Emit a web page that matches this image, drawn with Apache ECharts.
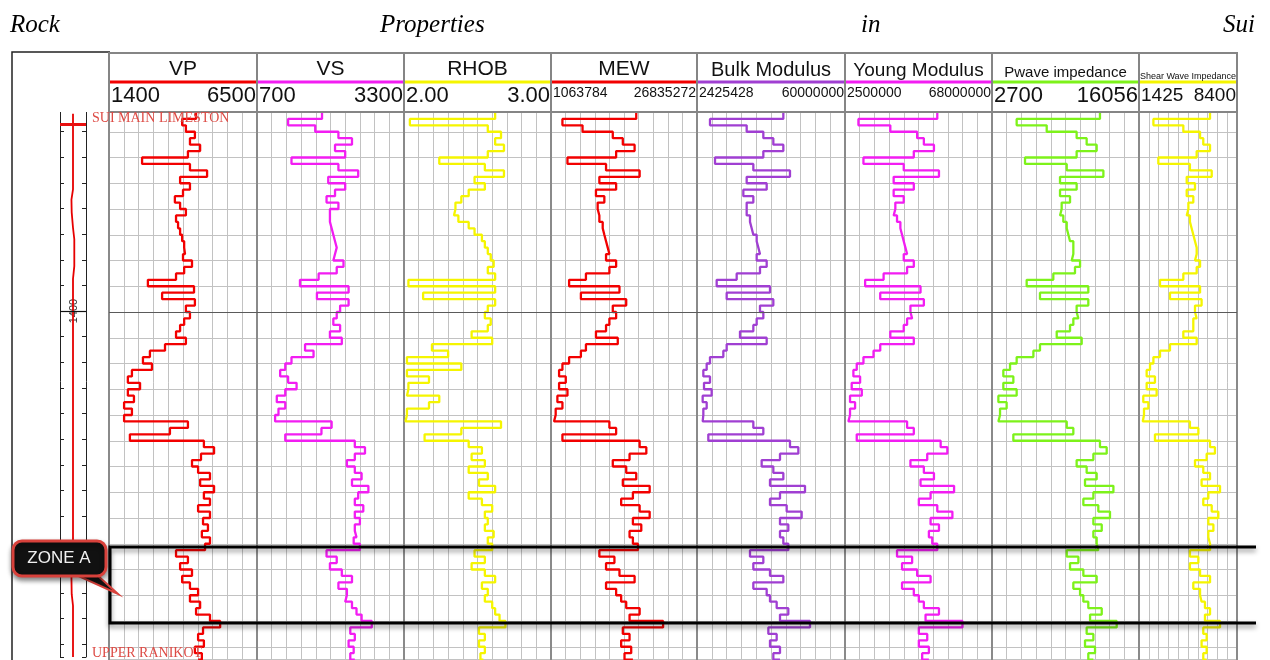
<!DOCTYPE html>
<html>
<head>
<meta charset="utf-8">
<script src="https://cdn.jsdelivr.net/npm/echarts@6/dist/echarts.min.js"></script>
<style>
  html, body { margin: 0; padding: 0; background: #fff; }
  #chart { width: 1270px; height: 660px; }
</style>
</head>
<body>
<div id="chart"></div>
<script>
// depth samples (m), shared by all log tracks
const depth = [
  1384.5, 1385, 1385.5, 1386, 1386.5, 1387, 1387.5, 1388, 1388.5, 1389,
  1389.5, 1390, 1390.5, 1391, 1391.5, 1392, 1392.5, 1393, 1393.5, 1394,
  1394.5, 1395, 1395.5, 1396, 1396.5, 1397, 1397.5, 1398, 1398.5, 1399,
  1399.5, 1400, 1400.5, 1401, 1401.5, 1402, 1402.5, 1403, 1403.5, 1404,
  1404.5, 1405, 1405.5, 1406, 1406.5, 1407, 1407.5, 1408, 1408.5, 1409,
  1409.5, 1410, 1410.5, 1411, 1411.5, 1412, 1412.5, 1413, 1413.5, 1414,
  1414.5, 1415, 1415.5, 1416, 1416.5, 1417, 1417.5, 1418, 1418.5, 1419,
  1419.5, 1420, 1420.5, 1421, 1421.5, 1422, 1422.5, 1423, 1423.5, 1424,
  1424.5, 1425, 1425.5, 1426, 1426.5, 1427
];

const vp = [
  4400, 3920, 4050, 4360, 4190, 4540, 4120, 2540, 4190, 4780,
  3850, 4190, 3950, 3670, 3850, 4050, 3710, 3780, 3850, 3920,
  3990, 4020, 3950, 4260, 3990, 3710, 2740, 4330, 3230, 4360,
  4050, 4190, 3990, 3850, 3710, 4050, 3330, 2810, 2570, 2880,
  2190, 2050, 2470, 2050, 2260, 1920, 2190, 1920, 4120, 3500,
  2120, 4670, 5020, 4570, 4260, 4470, 4880, 4540, 5020, 4670,
  4880, 4470, 4880, 4640, 4810, 4600, 4880, 4710, 3710, 4120,
  3850, 4260, 3920, 4190, 4470, 4190, 4540, 4400, 4880, 5230,
  4640, 4470, 4670, 4360, 4600, 4470
];
const vs = [
  1850, 1250, 1730, 2140, 2380, 2080, 2260, 1310, 2140, 2490,
  1960, 2260, 2080, 1930, 2140, 1990, 1990, 2020, 2050, 2080,
  2110, 2080, 2050, 2230, 2110, 1790, 1460, 2320, 1760, 2320,
  2170, 2110, 2050, 2170, 1990, 2200, 1550, 1700, 1310, 1200,
  1110, 1250, 1400, 1200, 1050, 1200, 1080, 1020, 2020, 1840,
  1200, 2430, 2610, 2430, 2290, 2430, 2550, 2380, 2670, 2490,
  2430, 2580, 2430, 2520, 2430, 2460, 2410, 2520, 1930, 2110,
  1990, 2200, 2380, 2140, 2290, 2260, 2380, 2460, 2550, 2730,
  2350, 2430, 2320, 2410, 2350, 2430
];
const rhob = [
  2.62, 2.04, 2.57, 2.66, 2.62, 2.68, 2.57, 2.24, 2.55, 2.68,
  2.48, 2.55, 2.44, 2.39, 2.35, 2.34, 2.37, 2.44, 2.48, 2.53,
  2.55, 2.57, 2.59, 2.61, 2.57, 2.62, 2.03, 2.62, 2.13, 2.62,
  2.57, 2.55, 2.59, 2.57, 2.46, 2.60, 2.19, 2.30, 2.02, 2.39,
  2.02, 2.17, 2.03, 2.02, 2.24, 2.17, 2.02, 2.01, 2.66, 2.39,
  2.14, 2.44, 2.53, 2.46, 2.55, 2.44, 2.57, 2.51, 2.62, 2.44,
  2.53, 2.60, 2.55, 2.57, 2.55, 2.61, 2.57, 2.60, 2.48, 2.55,
  2.46, 2.55, 2.62, 2.53, 2.57, 2.55, 2.60, 2.62, 2.65, 2.69,
  2.51, 2.55, 2.51, 2.55, 2.52, 2.54
];
const mew = [
  16110000, 3080000, 6630000, 11970000, 13740000, 15820000, 12560000, 3970000, 10780000, 16710000,
  9600000, 12560000, 9000000, 10480000, 9300000, 9600000, 9600000, 10190000, 10480000, 10780000,
  11080000, 11370000, 10780000, 12560000, 11370000, 7230000, 4260000, 13150000, 6340000, 14340000,
  11970000, 12560000, 11370000, 10780000, 9000000, 12850000, 7230000, 6340000, 4260000, 3080000,
  2490000, 3670000, 2490000, 3970000, 2190000, 3080000, 1890000, 1600000, 11370000, 12560000,
  3080000, 16710000, 17890000, 14930000, 11970000, 14340000, 16110000, 13740000, 18480000, 15520000,
  13450000, 16710000, 18480000, 15520000, 17000000, 14930000, 15520000, 16410000, 9600000, 12260000,
  10780000, 13150000, 15820000, 10780000, 12560000, 13450000, 14340000, 16710000, 14930000, 20850000,
  13740000, 14930000, 13450000, 15220000, 14040000, 15520000
];
const bulkModulus = [
  36010000, 7480000, 21750000, 28230000, 32120000, 36010000, 28230000, 9430000, 24340000, 38600000,
  21750000, 29530000, 20450000, 24340000, 21750000, 21750000, 23040000, 23690000, 24340000, 25640000,
  26290000, 26930000, 25640000, 29530000, 26930000, 17860000, 10080000, 30820000, 13970000, 32120000,
  26930000, 28230000, 25640000, 24340000, 19150000, 29530000, 13970000, 12670000, 7480000, 6190000,
  4890000, 7480000, 5150000, 8130000, 4630000, 6190000, 4890000, 4630000, 24340000, 28230000,
  6830000, 38600000, 41850000, 34710000, 27580000, 32120000, 36010000, 30820000, 44440000, 34710000,
  30820000, 37310000, 43140000, 34710000, 37950000, 34710000, 36010000, 37950000, 23040000, 28230000,
  24340000, 30820000, 36010000, 24340000, 29530000, 30820000, 33420000, 37950000, 34710000, 46380000,
  30180000, 33420000, 30820000, 34710000, 32120000, 34710000
];
const youngModulus = [
  43620000, 8480000, 22690000, 34650000, 37640000, 42130000, 33160000, 10720000, 28670000, 44370000,
  24180000, 33160000, 24180000, 28670000, 24930000, 24180000, 25680000, 27170000, 27920000, 28670000,
  29420000, 30170000, 28670000, 33160000, 30170000, 19700000, 11470000, 36150000, 18200000, 37640000,
  31660000, 32410000, 30170000, 28670000, 22690000, 33160000, 18200000, 15210000, 10720000, 7730000,
  6240000, 9230000, 5490000, 9980000, 4740000, 6990000, 4740000, 4000000, 30170000, 33160000,
  7730000, 45120000, 48110000, 39140000, 31660000, 37640000, 42130000, 36150000, 51100000, 40630000,
  35400000, 43620000, 50350000, 40630000, 44370000, 39880000, 41380000, 43620000, 25680000, 32410000,
  27920000, 34650000, 40630000, 27920000, 33160000, 35400000, 37640000, 44370000, 38390000, 54840000,
  35400000, 39140000, 35400000, 39880000, 36890000, 39880000
];
const pwaveImpedance = [
  12510, 4940, 7670, 10390, 11300, 12210, 10390, 5700, 9490, 12820,
  8880, 10390, 8880, 9790, 9030, 8880, 9180, 9490, 9640, 9790,
  10090, 10090, 9940, 10700, 10240, 8270, 5850, 11450, 7060, 11450,
  10390, 10550, 10090, 9790, 8580, 10850, 7060, 6460, 4940, 4340,
  3730, 4640, 3730, 4940, 3280, 4030, 3430, 3280, 9490, 10090,
  4640, 12510, 13120, 11910, 10390, 11300, 12210, 11150, 13730, 11910,
  11000, 12360, 13420, 11910, 12670, 11910, 12210, 12360, 9490, 10550,
  9790, 11000, 12210, 10090, 10700, 11000, 11450, 12670, 11610, 14030,
  11300, 11910, 11150, 12060, 11450, 11910
];
const shearImpedance = [
  6480, 2450, 4580, 5770, 6000, 6480, 5530, 2800, 5050, 6600,
  4820, 5410, 4820, 5290, 4940, 4820, 5050, 5170, 5290, 5410,
  5530, 5530, 5410, 5770, 5530, 4580, 2920, 5770, 3630, 5880,
  5410, 5530, 5290, 5290, 4580, 5530, 3630, 2920, 2450, 2210,
  1970, 2560, 1970, 2680, 1730, 2090, 1780, 1690, 5050, 5650,
  2560, 6480, 6830, 6240, 5410, 6000, 6480, 5880, 7190, 6360,
  6000, 6600, 7070, 6360, 6720, 6360, 6480, 6480, 5050, 5650,
  5050, 5770, 6480, 5290, 5770, 5880, 6120, 6480, 6120, 7190,
  6000, 6240, 5880, 6240, 6000, 6240
];

// track headers
const trackNames = ['VP', 'VS', 'RHOB', 'MEW', 'Bulk Modulus', 'Young Modulus', 'Pwave impedance', 'Shear Wave Impedance'];
const scaleMin = [1400, 700, 2.00, 1063784, 2425428, 2500000, 2700, 1425];
const scaleMax = [6500, 3300, 3.00, 26835272, 60000000, 68000000, 16056, 8400];
const scaleText = [['1400', '6500'], ['700', '3300'], ['2.00', '3.00'], ['1063784', '26835272'],
  ['2425428', '60000000'], ['2500000', '68000000'], ['2700', '16056'], ['1425', '8400']];
const trackData = [vp, vs, rhob, mew, bulkModulus, youngModulus, pwaveImpedance, shearImpedance];

// thin curve in the depth track (0-10 scale)
const refCurveDepth = [1384.6, 1390.5, 1391.3, 1392.3, 1393.5, 1394.4, 1396.5, 1397.5, 1420.0, 1420.8, 1422.1, 1423, 1427];
const refCurveValue = [5, 5, 4.4, 4.5, 5, 5.5, 5.5, 5, 5, 4.4, 4.5, 5, 5];

const formationNames = ['SUI MAIN LIMESTON', 'UPPER RANIKOT'];
const formationDepths = [1385.4, 1427.2];
const zoneA = [1418.25, 1424.15];
const titleWords = ['Rock', 'Properties', 'in', 'Sui'];

// layout
const edges = [109, 257, 404, 551, 697, 845, 992, 1139, 1237];
const colors = ['#f20000', '#f21df2', '#f5f500', '#f20000', '#a03fd2', '#f21df2', '#7df21a', '#f5f500'];
const nameFont = [21, 21, 21, 21, 20, 19, 15, 9];
const nameY = [69, 69, 69, 69, 70, 71, 73, 77];
const scaleFont = [22, 22, 22, 14, 14, 14, 22, 19];
const depthMin = 1384, depthMax = 1427, depthStep = 2;
const gridTop = 106, pxPerMetre = 12.875;
const gridHeight = (depthMax - depthMin) * pxPerMetre;
const sans = 'Liberation Sans, Arial, sans-serif';
const serif = 'Liberation Serif, Times New Roman, serif';
const borderGray = '#8a8a8a';

const grids = [], xAxes = [], yAxes = [], series = [];

trackNames.forEach((name, i) => {
  grids.push({ left: edges[i], width: edges[i + 1] - edges[i], top: gridTop, height: gridHeight });
  xAxes.push({
    gridIndex: i, type: 'value', position: 'bottom', min: scaleMin[i], max: scaleMax[i], show: false
  });
  xAxes.push({
    gridIndex: i, type: 'value', position: 'top', min: 0, max: 10, interval: 1,
    axisLine: { show: false, onZero: false }, axisTick: { show: false }, axisLabel: { show: false },
    splitLine: { show: true, lineStyle: { color: '#c2c2c2', width: 1 } }
  });
  yAxes.push({
    gridIndex: i, type: 'value', position: 'left', inverse: true,
    min: depthMin, max: depthMax, interval: depthStep,
    axisLine: { show: true, onZero: false, lineStyle: { color: borderGray, width: 2 } },
    axisTick: { show: false }, axisLabel: { show: false },
    splitLine: { show: true, lineStyle: { color: '#c2c2c2', width: 1 } }
  });
  series.push({
    name: name, type: 'line', xAxisIndex: 2 * i, yAxisIndex: i,
    data: trackData[i].map((v, j) => [v, depth[j]]),
    step: 'start', symbol: 'none', animation: false,
    lineStyle: { color: colors[i], width: 2.3 },
    markLine: {
      silent: true, symbol: ['none', 'none'], animation: false,
      label: { show: false },
      lineStyle: { color: '#5a5a5a', width: 1.2, type: 'solid' },
      data: [{ yAxis: 1400 }]
    }
  });
});
// right border of the last track
yAxes.push({
  gridIndex: 7, type: 'value', position: 'right', inverse: true, min: depthMin, max: depthMax,
  axisLine: { show: true, onZero: false, lineStyle: { color: borderGray, width: 2 } },
  axisTick: { show: false }, axisLabel: { show: false }, splitLine: { show: false }
});

// depth track
grids.push({ left: 60, width: 26, top: gridTop, height: gridHeight });
xAxes.push({ gridIndex: 8, type: 'value', position: 'bottom', min: 0, max: 10, show: false });
const depthAxis = (pos, labels) => ({
  gridIndex: 8, type: 'value', position: pos, inverse: true,
  min: depthMin, max: depthMax, interval: depthStep,
  axisLine: { show: true, onZero: false, lineStyle: { color: '#222', width: 1 } },
  axisTick: { show: true, inside: true, length: 4, lineStyle: { color: '#222' } },
  axisLabel: {
    show: labels, inside: true, rotate: 90, margin: 8, fontSize: 11, color: '#333', fontFamily: sans,
    formatter: v => (v === 1400 ? '1400' : '')
  },
  splitLine: { show: false }
});
yAxes.push(depthAxis('left', true), depthAxis('right', false));
series.push({
  name: 'depth', type: 'line', xAxisIndex: 16, yAxisIndex: 9,
  data: refCurveValue.map((v, j) => [v, refCurveDepth[j]]),
  symbol: 'none', animation: false, z: 1,
  lineStyle: { color: '#e60000', width: 1.8 },
  markLine: {
    silent: true, symbol: ['none', 'none'], animation: false, label: { show: false },
    data: [
      { yAxis: 1400, lineStyle: { color: '#111', width: 1.2, type: 'solid' } }
    ].concat(formationDepths.map(d => ({
      yAxis: d, lineStyle: { color: '#e81010', width: 3, type: 'solid' }
    })))
  }
});

const chart = echarts.init(document.getElementById('chart'), null, { renderer: 'canvas' });
chart.setOption({
  backgroundColor: '#ffffff',
  animation: false,
  grid: grids,
  xAxis: xAxes,
  yAxis: yAxes,
  series: series
});

// header, frame, title, formation names and the Zone A annotation
const graphics = [];
graphics.push({ type: 'rect', z: 40, shape: { x: 13, y: 50, width: 1226, height: 62 }, style: { fill: '#fff' } });
graphics.push({
  type: 'polyline', z: 45, shape: { points: [[12, 662], [12, 52], [110, 52]] },
  style: { stroke: '#222', lineWidth: 1.5, fill: null }
});
trackNames.forEach((name, i) => {
  const x0 = edges[i], w = edges[i + 1] - edges[i];
  graphics.push({
    type: 'rect', z: 50, shape: { x: x0, y: 53, width: w, height: 59 },
    style: { fill: '#fff', stroke: '#858585', lineWidth: 2 }
  });
  graphics.push({
    type: 'line', z: 51, shape: { x1: x0 + 1, y1: 82, x2: x0 + w - 1, y2: 82 },
    style: { stroke: colors[i], lineWidth: 3 }
  });
  graphics.push({
    type: 'text', z: 52, x: x0 + w / 2, y: nameY[i],
    style: { text: name, fill: '#111', font: nameFont[i] + 'px ' + sans, textAlign: 'center', textVerticalAlign: 'middle' }
  });
  const sy = scaleFont[i] > 16 ? 96 : 93;
  graphics.push({
    type: 'text', z: 52, x: x0 + 2, y: sy,
    style: { text: scaleText[i][0], fill: '#111', font: scaleFont[i] + 'px ' + sans, textAlign: 'left', textVerticalAlign: 'middle' }
  });
  graphics.push({
    type: 'text', z: 52, x: x0 + w - 1, y: sy,
    style: { text: scaleText[i][1], fill: '#111', font: scaleFont[i] + 'px ' + sans, textAlign: 'right', textVerticalAlign: 'middle' }
  });
});

const titleX = [10, 380, 861, 1255];
const titleAlign = ['left', 'left', 'left', 'right'];
titleWords.forEach((word, k) => {
  graphics.push({
    type: 'text', z: 60, x: titleX[k], y: 25,
    style: { text: word, fill: '#000', font: 'italic 25px ' + serif, textAlign: titleAlign[k], textVerticalAlign: 'middle' }
  });
});

formationNames.forEach((n, k) => {
  const y = chart.convertToPixel({ yAxisIndex: 9 }, formationDepths[k]);
  graphics.push({
    type: 'text', z: 55, x: 92, y: y - 6,
    style: { text: n, fill: '#dd4a44', font: '14px ' + serif, textAlign: 'left', textVerticalAlign: 'middle' }
  });
});

const zoneTop = chart.convertToPixel({ yAxisIndex: 0 }, zoneA[0]);
const zoneBottom = chart.convertToPixel({ yAxisIndex: 0 }, zoneA[1]);
const zoneShadow = { shadowBlur: 5, shadowColor: 'rgba(0,0,0,0.45)', shadowOffsetY: 3 };
graphics.push({
  type: 'polyline', z: 70,
  shape: { points: [[1256, zoneTop], [110, zoneTop], [110, zoneBottom], [1256, zoneBottom]] },
  style: Object.assign({ stroke: '#000', lineWidth: 3, fill: null }, zoneShadow)
});
graphics.push({
  type: 'polygon', z: 71, shape: { points: [[74, 574], [96, 574], [118, 594]] },
  style: { fill: '#151515', stroke: '#d8413b', lineWidth: 2 }
});
graphics.push({
  type: 'rect', z: 72, shape: { x: 13, y: 541, width: 93, height: 35, r: 9 },
  style: Object.assign({ fill: '#111', stroke: '#d8413b', lineWidth: 3 }, zoneShadow)
});
graphics.push({
  type: 'text', z: 73, x: 59, y: 558,
  style: { text: 'ZONE A', fill: '#f0f0f0', font: '17px ' + sans, textAlign: 'center', textVerticalAlign: 'middle' }
});

chart.setOption({ graphic: graphics });
</script>
</body>
</html>
